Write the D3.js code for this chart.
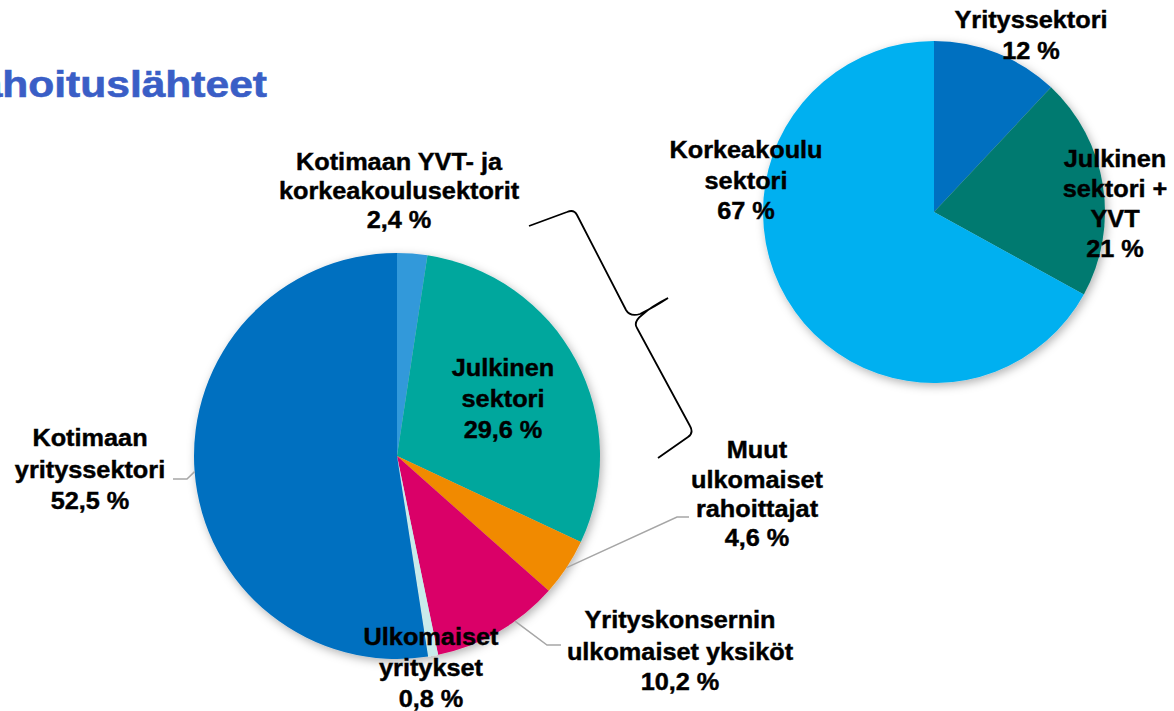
<!DOCTYPE html>
<html><head><meta charset="utf-8">
<script src="https://cdn.jsdelivr.net/npm/d3@7"></script>
<style>
html,body{margin:0;padding:0;background:#fff;overflow:hidden}
text{font-family:"Liberation Sans",Arial,sans-serif;font-weight:bold}
</style></head>
<body>
<svg id="c" width="1174" height="711"></svg>
<script>
// Main pie: funding sources
const mainCategories = ["Kotimaan YVT- ja korkeakoulusektorit","Julkinen sektori","Muut ulkomaiset rahoittajat","Yrityskonsernin ulkomaiset yksiköt","Ulkomaiset yritykset","Kotimaan yrityssektori"];
const mainValues = [2.4, 29.6, 4.6, 10.2, 0.8, 52.5];
const mainLabels = ["2,4 %","29,6 %","4,6 %","10,2 %","0,8 %","52,5 %"];
const mainColors = ["#3399DA","#00A79D","#F18A00","#DA0068","#C9EBEB","#0070C0"];
// Side pie: breakdown
const sideCategories = ["Yrityssektori","Julkinen sektori + YVT","Korkeakoulu sektori"];
const sideValues = [12, 21, 67];
const sideLabels = ["12 %","21 %","67 %"];
const sideColors = ["#0070C0","#007A70","#00B0F0"];

const svg = d3.select("#c");
const defs = svg.append("defs");
const f = defs.append("filter").attr("id","sh").attr("x","-20%").attr("y","-20%").attr("width","140%").attr("height","140%");
f.append("feDropShadow").attr("dx",2).attr("dy",3).attr("stdDeviation",5).attr("flood-color","#000").attr("flood-opacity",0.3);

// Title (partially clipped at left, as in the reference)
svg.append("g").attr("transform","translate(267,97) scale(1.15,1)")
  .append("text").attr("text-anchor","end").attr("font-size",37).attr("fill","#3A5EC6")
  .attr("stroke","#3A5EC6").attr("stroke-width",0.6).text("Rahoituslähteet");

const pie = d3.pie().sort(null).value(d=>d);

function drawPie(cx, cy, r, values, colors){
  const g = svg.append("g").attr("transform",`translate(${cx},${cy})`);
  const arcs = pie(values);
  const arc = d3.arc().innerRadius(0).outerRadius(r);
  const gg = g.append("g").attr("filter","url(#sh)");
  gg.selectAll("path").data(arcs).enter().append("path")
    .attr("d",arc).attr("fill",(d,i)=>colors[i]);
  return {arcs, arc, g};
}

const M = drawPie(397, 456, 203, mainValues, mainColors);
const S = drawPie(934, 212, 171, sideValues, sideColors);

function label(x, lines, ys, fs){
  lines.forEach((t,i)=>{
    svg.append("g").attr("transform",`translate(${x},${ys[i]}) scale(1.1,1)`)
      .append("text").attr("text-anchor","middle").attr("dy","0.36em")
      .attr("font-size",fs||23).attr("fill","#000")
      .attr("stroke","#000").attr("stroke-width",0.4).text(t);
  });
}

// leader lines (gray)
const lg = svg.append("g").attr("fill","none").attr("stroke","#A6A6A6").attr("stroke-width",1.5);
function edgePoint(p, cx, cy, r, frac){
  const a = p.startAngle + (p.endAngle-p.startAngle)*frac;
  return [cx + r*Math.sin(a), cy - r*Math.cos(a)];
}
{
  const p = edgePoint(M.arcs[2],397,456,203,0.5);
  lg.append("path").attr("d",`M${p[0]},${p[1]} L677,517 L689,517`);
  const q = edgePoint(M.arcs[3],397,456,203,0.35);
  lg.append("path").attr("d",`M${q[0]},${q[1]} L547,645 L561,645`);
  const k = edgePoint(M.arcs[5],397,456,203,0.5);
  lg.append("path").attr("d",`M${k[0]},${k[1]} L187,479 L173,479`);
}

// brace
svg.append("path").attr("fill","none").attr("stroke","#000").attr("stroke-width",1.8)
  .attr("d","M529,226 L567,212 Q574,209 577,215 L626,310 Q630,317 640,314 Q656,306 668,298 Q652,306 642,315 Q633,322 637,328 L690,426 Q694,433 688,437 L658,458");

// main labels
label(399, ["Kotimaan YVT- ja","korkeakoulusektorit",mainLabels[0]], [162,191,220]);
label(503, ["Julkinen","sektori",mainLabels[1]], [368,399,430]);
label(757, ["Muut","ulkomaiset","rahoittajat",mainLabels[2]], [450,480,509,538]);
label(680, ["Yrityskonsernin","ulkomaiset yksiköt",mainLabels[3]], [620,652,682]);
label(431, ["Ulkomaiset","yritykset",mainLabels[4]], [637,668,699]);
label(90, ["Kotimaan","yrityssektori",mainLabels[5]], [438,470,501]);

// side labels
label(1031, [sideCategories[0], sideLabels[0]], [20,51]);
label(1115, ["Julkinen","sektori +","YVT",sideLabels[1]], [159,189,219,249]);
label(746, ["Korkeakoulu","sektori",sideLabels[2]], [150,181,211]);
</script>
</body></html>
